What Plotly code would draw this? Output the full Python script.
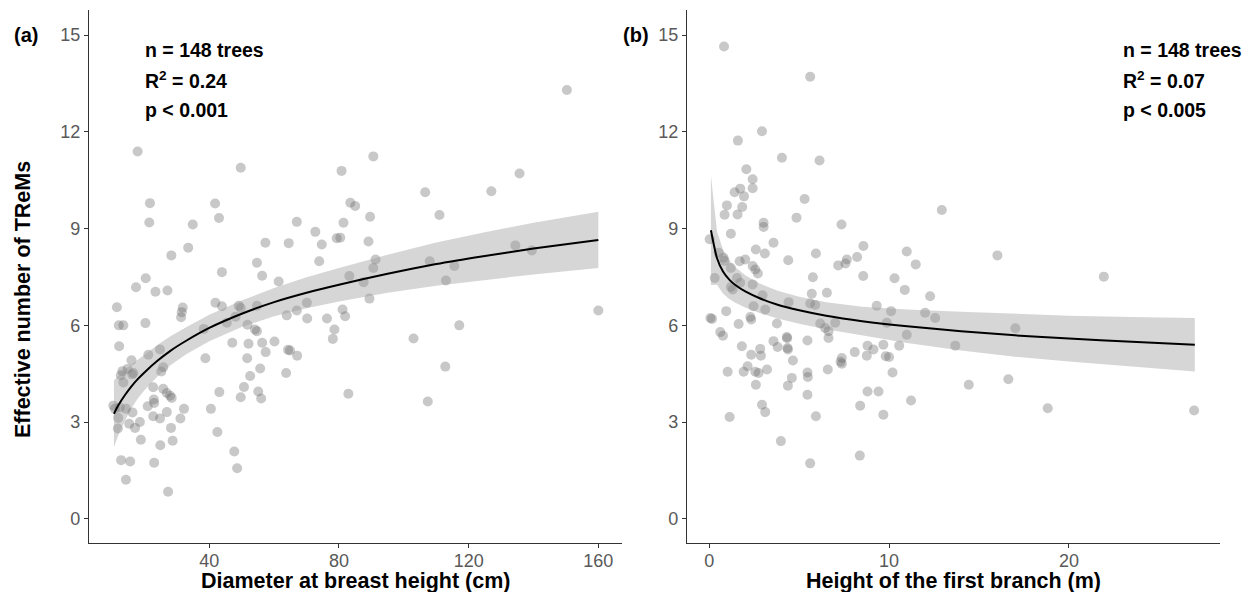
import plotly.graph_objects as go

# ---------------- data ----------------
# Panel (a): Diameter at breast height (cm) vs effective number of TReMs
dbh = [17.9, 49.7, 21.7, 21.5, 41.8, 43.0, 34.9, 67.0, 72.7, 33.5, 28.3, 57.3, 64.5, 54.7, 43.9,
       56.3, 61.4, 73.9, 17.4, 20.4, 23.4, 27.1, 11.5, 12.1, 13.5, 20.3, 12.2, 21.2, 24.8, 16.0,
       13.2, 14.8, 16.6, 25.8, 25.2, 13.5, 22.7, 25.8, 26.9, 28.4, 10.4, 10.9, 14.3, 16.3, 21.0,
       23.0, 26.9, 32.2, 22.7, 24.8, 31.1, 11.9, 15.3, 18.6, 11.8, 17.1, 28.2, 18.9, 28.7, 24.9,
       12.8, 15.6, 23.0, 14.3, 27.3, 38.8, 40.5, 43.1, 42.5, 38.3, 41.9, 43.9, 45.4, 47.1, 49.1,
       49.7, 48.1, 51.8, 54.1, 54.7, 52.1, 56.3, 57.4, 60.1, 51.7, 55.7, 52.6, 50.7, 49.7, 55.1,
       56.0, 47.7, 48.6, 63.7, 64.3, 64.9, 67.1, 63.9, 67.0, 70.2, 70.1, 31.8, 31.5, 31.3, 74.7,
       79.3, 80.4, 54.7, 76.3, 81.1, 81.9, 78.6, 78.1, 82.9, 106.6, 127.0, 83.5, 85.0, 81.4, 89.6,
       111.0, 89.1, 91.3, 90.6, 83.2, 87.6, 89.4, 108.0, 115.6, 113.0, 134.4, 139.5, 117.1, 103.0,
       160.0, 150.3, 90.6, 80.8, 135.7, 112.8, 107.4, 27.9, 12.7, 16.2, 12.4, 22.9]
trems_a = [11.39, 10.89, 9.79, 9.19, 9.78, 9.33, 9.13, 9.21, 8.90, 8.41, 8.17, 8.56, 8.55, 7.94, 7.65,
           7.54, 7.36, 7.99, 7.18, 7.46, 7.04, 7.08, 6.56, 6.00, 6.00, 6.07, 5.35, 5.09, 5.25, 4.92,
           4.58, 4.65, 4.52, 4.70, 4.57, 4.23, 4.08, 4.03, 3.90, 3.75, 3.51, 3.41, 3.41, 3.30, 3.49,
           3.59, 3.31, 3.41, 3.18, 3.11, 3.11, 3.13, 2.95, 3.00, 2.80, 2.82, 2.82, 2.45, 2.42, 2.28,
           1.82, 1.78, 1.74, 1.21, 0.84, 4.98, 3.41, 3.93, 2.69, 5.89, 6.70, 6.59, 6.08, 5.46, 6.61,
           6.54, 6.27, 6.02, 5.87, 5.82, 5.43, 5.46, 5.17, 5.50, 4.98, 4.66, 4.43, 4.09, 3.77, 3.95,
           3.73, 2.09, 1.57, 4.52, 5.24, 5.22, 5.06, 6.31, 6.46, 6.21, 6.70, 6.55, 6.41, 6.25, 8.51,
           8.70, 8.72, 6.61, 6.21, 6.49, 6.28, 5.87, 5.58, 3.88, 10.13, 10.16, 9.80, 9.70, 9.18, 9.37,
           9.42, 8.60, 8.04, 7.78, 7.53, 7.34, 6.83, 7.99, 7.84, 7.39, 8.48, 8.32, 6.00, 5.59,
           6.46, 13.30, 11.24, 10.79, 10.71, 4.72, 3.64, 3.82, 4.45, 4.48, 3.45, 3.70]

# Fitted curve and 95% band for panel (a)
fit_a_x = [10.6, 12, 14, 16, 18, 20, 24, 28, 33, 40, 50, 60, 70, 80, 95, 110, 125, 140, 160]
fit_a_y = [3.26, 3.53, 3.84, 4.11, 4.34, 4.54, 4.90, 5.21, 5.53, 5.92, 6.36, 6.72, 7.01, 7.26,
           7.60, 7.90, 8.15, 8.38, 8.65]
fit_a_lo = [2.23, 2.61, 3.05, 3.43, 3.74, 3.99, 4.41, 4.76, 5.11, 5.51, 5.95, 6.28, 6.53, 6.74,
            7.01, 7.23, 7.41, 7.58, 7.78]
fit_a_hi = [4.29, 4.45, 4.63, 4.79, 4.94, 5.09, 5.39, 5.66, 5.95, 6.33, 6.77, 7.16, 7.49, 7.78,
            8.19, 8.57, 8.89, 9.18, 9.52]

# Panel (b): Height of the first branch (m)
hfb = [0.82, 5.61, 2.93, 1.59, 4.04, 6.13, 2.06, 2.41, 2.41, 1.72, 1.41, 1.93, 5.30, 0.98, 1.83,
       0.85, 1.57, 4.85, 3.02, 3.02, 7.35, 1.20, 0.02, 3.57, 2.59, 3.09, 5.93, 8.57, 10.98, 8.22,
       11.48, 4.39, 7.65, 7.57, 7.17, 8.56, 10.30, 10.87, 5.76, 5.70, 6.54, 2.00, 1.69, 0.79, 0.85,
       0.52, 1.20, 2.41, 2.56, 2.70, 0.30, 1.54, 2.41, 1.20, 1.30, 2.96, 12.28, 3.11, 2.46, 0.94,
       0.06, 0.15, 1.63, 2.28, 2.33, 3.76, 0.61, 0.76, 4.41, 5.61, 5.89, 6.17, 6.44, 6.63, 6.63,
       7.00, 9.31, 10.11, 9.87, 10.98, 12.00, 12.56, 5.46, 4.31, 4.35, 4.37, 4.33, 3.57, 3.80, 1.81,
       2.83, 2.87, 2.33, 4.65, 2.56, 2.74, 3.21, 1.02, 1.91, 2.13, 4.59, 4.37, 5.46, 5.48, 6.59,
       7.37, 7.37, 7.30, 8.09, 8.80, 8.76, 9.13, 9.68, 9.81, 10.00, 10.56, 10.19, 2.59, 5.46, 2.93,
       3.11, 1.13, 5.93, 8.80, 9.41, 8.39, 9.68, 11.22, 3.98, 5.61, 8.37, 12.93, 16.02, 21.94, 17.02,
       13.68, 14.43, 16.63, 18.82, 26.96, 1.72]
trems_b = [14.65, 13.71, 12.02, 11.73, 11.20, 11.11, 10.84, 10.53, 10.25, 10.24, 10.13, 10.00, 9.92, 9.72, 9.67,
           9.43, 9.44, 9.34, 9.18, 9.05, 9.13, 8.84, 8.67, 8.56, 8.35, 8.23, 8.23, 8.46, 8.29, 8.12,
           7.89, 8.02, 8.04, 7.92, 7.86, 7.53, 7.46, 7.10, 7.49, 6.98, 7.01, 8.04, 7.99, 8.10, 8.00,
           8.25, 7.78, 7.84, 7.73, 7.61, 7.47, 7.47, 7.27, 7.19, 7.11, 6.93, 6.90, 6.49, 6.59, 6.44,
           6.23, 6.20, 6.04, 6.26, 6.18, 6.06, 5.79, 5.68, 6.72, 6.68, 6.63, 6.06, 5.92, 5.82, 5.61,
           6.08, 6.61, 6.44, 6.08, 5.71, 6.39, 6.23, 5.53, 5.64, 5.30, 5.25, 5.60, 5.51, 5.33, 5.35,
           5.27, 5.06, 5.09, 4.91, 4.56, 4.52, 4.63, 4.56, 4.56, 4.73, 4.37, 4.13, 4.54, 4.40, 4.63,
           4.99, 4.81, 4.87, 5.17, 5.37, 5.06, 5.25, 5.40, 5.04, 5.02, 5.37, 4.54, 4.16, 3.85, 3.54,
           3.31, 3.16, 3.18, 3.95, 3.95, 3.51, 3.23, 3.67, 2.41, 1.72, 1.96, 9.58, 8.17, 7.51, 5.91,
           5.37, 4.16, 4.33, 3.43, 3.36, 7.32]

fit_b_x = [0.09, 0.43, 0.77, 1.11, 1.45, 2.0, 2.8, 3.8, 5.0, 6.5, 8.5, 11, 14, 17, 20, 23.5, 27]
fit_b_y = [8.95, 8.08, 7.66, 7.42, 7.25, 7.05, 6.84, 6.64, 6.47, 6.30, 6.13, 5.97, 5.82, 5.69,
           5.59, 5.49, 5.40]
fit_b_lo = [7.25, 7.26, 6.98, 6.82, 6.70, 6.55, 6.38, 6.21, 6.05, 5.88, 5.68, 5.45, 5.22, 5.03,
            4.88, 4.72, 4.57]
fit_b_hi = [10.65, 8.90, 8.34, 8.02, 7.80, 7.55, 7.30, 7.07, 6.89, 6.72, 6.58, 6.49, 6.42, 6.35,
            6.30, 6.26, 6.23]

y_ticks = [0, 3, 6, 9, 12, 15]
xa_ticks = [40, 80, 120, 160]
xb_ticks = [0, 10, 20]

stats_a = ["n = 148 trees", "R<sup>2</sup> = 0.24", "p < 0.001"]
stats_b = ["n = 148 trees", "R<sup>2</sup> = 0.07", "p < 0.005"]

# ---------------- figure ----------------
W, H = 1257, 592
FONT = "Liberation Sans, Arial, sans-serif"
PT = "rgba(102,102,102,0.36)"
BAND = "rgba(153,153,153,0.4)"

fig = go.Figure()


def add_panel(xs, ys, fx, fy, flo, fhi, xa, ya):
    fig.add_trace(go.Scatter(x=xs, y=ys, mode="markers", xaxis=xa, yaxis=ya,
                             marker=dict(size=10, color=PT, line=dict(width=0)),
                             showlegend=False, hoverinfo="skip"))
    fig.add_trace(go.Scatter(x=fx + fx[::-1], y=fhi + flo[::-1], mode="lines",
                             fill="toself", fillcolor=BAND, line=dict(width=0),
                             xaxis=xa, yaxis=ya, showlegend=False, hoverinfo="skip"))
    fig.add_trace(go.Scatter(x=fx, y=fy, mode="lines", line=dict(color="black", width=2,
                             shape="spline", smoothing=0.6),
                             xaxis=xa, yaxis=ya, showlegend=False, hoverinfo="skip"))


add_panel(dbh, trems_a, fit_a_x, fit_a_y, fit_a_lo, fit_a_hi, "x", "y")
add_panel(hfb, trems_b, fit_b_x, fit_b_y, fit_b_lo, fit_b_hi, "x2", "y2")

dom_y = [1 - 543 / H, 1 - 10 / H]
axis_common = dict(showgrid=False, zeroline=False, showline=True, linecolor="#333333",
                   linewidth=1.1, ticks="outside", ticklen=4, tickcolor="#333333", tickwidth=1,
                   tickfont=dict(family=FONT, size=18, color="#595959"), fixedrange=True)
x_extra = dict(ticklabelstandoff=-3)

fig.update_layout(
    width=W, height=H,
    margin=dict(l=0, r=0, t=0, b=0),
    paper_bgcolor="white", plot_bgcolor="white",
    showlegend=False,
    xaxis=dict(domain=[89 / W, 622 / W], range=[2.9, 167.3], tickvals=xa_ticks,
               anchor="y", **axis_common, **x_extra),
    yaxis=dict(domain=dom_y, range=[-0.75, 15.78], tickvals=y_ticks, anchor="x",
               **axis_common),
    xaxis2=dict(domain=[687 / W, 1220 / W], range=[-1.24, 28.4], tickvals=xb_ticks,
                anchor="y2", **axis_common, **x_extra),
    yaxis2=dict(domain=dom_y, range=[-0.75, 15.78], tickvals=y_ticks, anchor="x2",
                **axis_common),
)

ann = []


def px(x):
    return x / W


def py(y):
    return 1 - y / H


title_font = dict(family=FONT, size=21.5, color="black")
ann.append(dict(text="<b>Effective number of TReMs</b>", x=px(23), y=py(300), textangle=-90,
                xref="paper", yref="paper", showarrow=False, font=title_font,
                xanchor="center", yanchor="middle"))
ann.append(dict(text="<b>Diameter at breast height (cm)</b>", x=px(355.5), y=py(581),
                xref="paper", yref="paper", showarrow=False, font=title_font,
                xanchor="center", yanchor="middle"))
ann.append(dict(text="<b>Height of the first branch (m)</b>", x=px(953.5), y=py(581),
                xref="paper", yref="paper", showarrow=False, font=title_font,
                xanchor="center", yanchor="middle"))
ann.append(dict(text="<b>(a)</b>", x=px(12), y=py(35), xref="paper", yref="paper",
                showarrow=False, font=dict(family=FONT, size=20, color="black"),
                xanchor="left", yanchor="middle"))
ann.append(dict(text="<b>(b)</b>", x=px(621), y=py(35), xref="paper", yref="paper",
                showarrow=False, font=dict(family=FONT, size=20, color="black"),
                xanchor="left", yanchor="middle"))

line_y = [50, 80, 110]
for txt, yy in zip(stats_a, line_y):
    ann.append(dict(text=txt, x=px(143), y=py(yy), xref="paper", yref="paper",
                    showarrow=False, font=dict(family=FONT, size=19.5, color="black", weight=600),
                    xanchor="left", yanchor="middle"))
for txt, yy in zip(stats_b, line_y):
    ann.append(dict(text=txt, x=px(1121), y=py(yy), xref="paper", yref="paper",
                    showarrow=False, font=dict(family=FONT, size=19.5, color="black", weight=600),
                    xanchor="left", yanchor="middle"))

fig.update_layout(annotations=ann)
fig.write_html("out.html", config={"displayModeBar": False},
               post_script="document.body.style.margin='0';document.body.style.padding='0';"
                           "document.body.style.overflow='hidden';")
